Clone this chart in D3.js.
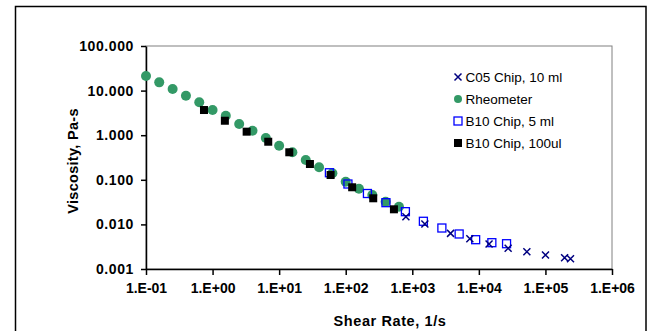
<!DOCTYPE html>
<html>
<head>
<meta charset="utf-8">
<script src="https://cdn.jsdelivr.net/npm/d3@7"></script>
<style>
  body { margin: 0; background: #fff; }
  text { font-family: Arial, "Liberation Sans", sans-serif; }
</style>
</head>
<body>
<figure id="chart" style="margin:0"></figure>
<script>
// data (x = shear rate 1/s, y = viscosity Pa-s)
const rheoX = [0.1, 0.158, 0.251, 0.398, 0.631, 1, 1.58, 2.51, 3.98, 6.31, 10, 15.8, 25.1, 39.8, 63.1, 100, 158, 251, 398, 631];
const rheoY = [21.2, 15.3, 10.9, 7.64, 5.47, 3.67, 2.72, 1.78, 1.26, 0.865, 0.578, 0.414, 0.278, 0.192, 0.140, 0.0906, 0.063, 0.0457, 0.0323, 0.0249];

const b10bigX = [56.9, 108, 212, 402, 788, 1468, 2783, 5058, 8950, 15670, 26060];
const b10bigY = [0.144, 0.0805, 0.0493, 0.0307, 0.0193, 0.01175, 0.0083, 0.0061, 0.00454, 0.00389, 0.00369];

const b10smallX = [0.743, 1.53, 3.25, 6.86, 14.2, 29.0, 59.3, 125, 259, 530];
const b10smallY = [3.67, 2.11, 1.20, 0.714, 0.414, 0.226, 0.128, 0.068, 0.0385, 0.0218];

const c05X = [802, 1545, 3756, 7320, 14230, 27540, 52600, 100200, 194000, 238000];
const c05Y = [0.0149, 0.0102, 0.0063, 0.00475, 0.00364, 0.00291, 0.00243, 0.00206, 0.00179, 0.00170];

const xTicks = [0.1, 1, 10, 100, 1000, 10000, 100000, 1000000];
const xTickLabels = ["1.E-01", "1.E+00", "1.E+01", "1.E+02", "1.E+03", "1.E+04", "1.E+05", "1.E+06"];
const yTicks = [0.001, 0.01, 0.1, 1, 10, 100];
const yTickLabels = ["0.001", "0.010", "0.100", "1.000", "10.000", "100.000"];

const legendNames = ["C05 Chip, 10 ml", "Rheometer", "B10 Chip, 5 ml", "B10 Chip, 100ul"];

const width = 649, height = 331;
const plot = { left: 146, right: 612, top: 46, bottom: 269 };
const green = "#339966", navy = "#000080", blue = "#0000ff";

const svg = d3.select("figure#chart")
  .append("svg")
  .attr("width", width)
  .attr("height", height);

// outer chart frame
svg.append("rect")
  .attr("x", 15.5).attr("y", 6.5)
  .attr("width", 630.5).attr("height", 340)
  .attr("fill", "none")
  .attr("stroke", "#000")
  .attr("stroke-width", 1.5);

const x = d3.scaleLog().domain([0.1, 1e6]).range([plot.left, plot.right]);
const y = d3.scaleLog().domain([0.001, 100]).range([plot.bottom, plot.top]);

// plot area border (gray)
svg.append("rect")
  .attr("x", plot.left).attr("y", plot.top)
  .attr("width", plot.right - plot.left).attr("height", plot.bottom - plot.top)
  .attr("fill", "none")
  .attr("stroke", "#808080")
  .attr("stroke-width", 1);

// axes
const xAxis = svg.append("g")
  .attr("transform", "translate(0," + plot.bottom + ")")
  .call(d3.axisBottom(x)
    .tickValues(xTicks)
    .tickFormat((d, i) => xTickLabels[i])
    .tickSize(6).tickSizeOuter(0).tickPadding(8));

const yAxis = svg.append("g")
  .attr("transform", "translate(" + plot.left + ",0)")
  .call(d3.axisLeft(y)
    .tickValues(yTicks)
    .tickFormat((d, i) => yTickLabels[i])
    .tickSize(5).tickSizeOuter(0).tickPadding(7));

[xAxis, yAxis].forEach(g => {
  g.select(".domain").attr("stroke", "#000").attr("stroke-width", 1.5);
  g.selectAll(".tick line").attr("stroke", "#000").attr("stroke-width", 1.5);
  g.selectAll(".tick text")
    .attr("fill", "#000")
    .style("font-family", "Arial, 'Liberation Sans', sans-serif")
    .style("font-size", "14px")
    .style("font-weight", "bold");
});
yAxis.selectAll(".tick text").style("letter-spacing", "0.6px");

// axis titles
svg.append("text")
  .attr("x", 390).attr("y", 326)
  .attr("text-anchor", "middle")
  .style("font-size", "14.5px").style("font-weight", "bold")
  .style("letter-spacing", "0.6px")
  .text("Shear Rate, 1/s");

svg.append("text")
  .attr("transform", "translate(78,161) rotate(-90)")
  .attr("text-anchor", "middle")
  .style("font-size", "14.5px").style("font-weight", "bold")
  .style("letter-spacing", "0.3px")
  .text("Viscosity, Pa-s");

// marker drawers
function circles(g, cx, cy, r) {
  g.append("circle").attr("cx", cx).attr("cy", cy).attr("r", r).attr("fill", green);
}
function openSquare(g, cx, cy, s) {
  g.append("rect").attr("x", cx - s / 2).attr("y", cy - s / 2)
    .attr("width", s).attr("height", s)
    .attr("fill", "none").attr("stroke", blue).attr("stroke-width", 1.3);
}
function blackSquare(g, cx, cy, s) {
  g.append("rect").attr("x", cx - s / 2).attr("y", cy - s / 2)
    .attr("width", s).attr("height", s).attr("fill", "#000");
}
function cross(g, cx, cy, s) {
  g.append("path")
    .attr("d", `M${cx - s},${cy - s}L${cx + s},${cy + s}M${cx - s},${cy + s}L${cx + s},${cy - s}`)
    .attr("stroke", navy).attr("stroke-width", 1.5).attr("fill", "none");
}

const marks = svg.append("g");
rheoX.forEach((d, i) => circles(marks, x(d), y(rheoY[i]), 5));
b10bigX.forEach((d, i) => openSquare(marks, x(d), y(b10bigY[i]), 8));
b10smallX.forEach((d, i) => blackSquare(marks, x(d), y(b10smallY[i]), 8));
c05X.forEach((d, i) => cross(marks, x(d), y(c05Y[i]), 3.5));

// legend
const legend = svg.append("g");
const legY = [77, 99, 121, 143];
const legX = 458;
cross(legend, legX, legY[0], 3.5);
circles(legend, legX, legY[1], 4);
openSquare(legend, legX, legY[2], 8);
blackSquare(legend, legX, legY[3], 8);
legendNames.forEach((name, i) => {
  legend.append("text")
    .attr("x", 465.5).attr("y", legY[i] + 5)
    .style("font-size", "13.5px")
    .text(name);
});
</script>
</body>
</html>
